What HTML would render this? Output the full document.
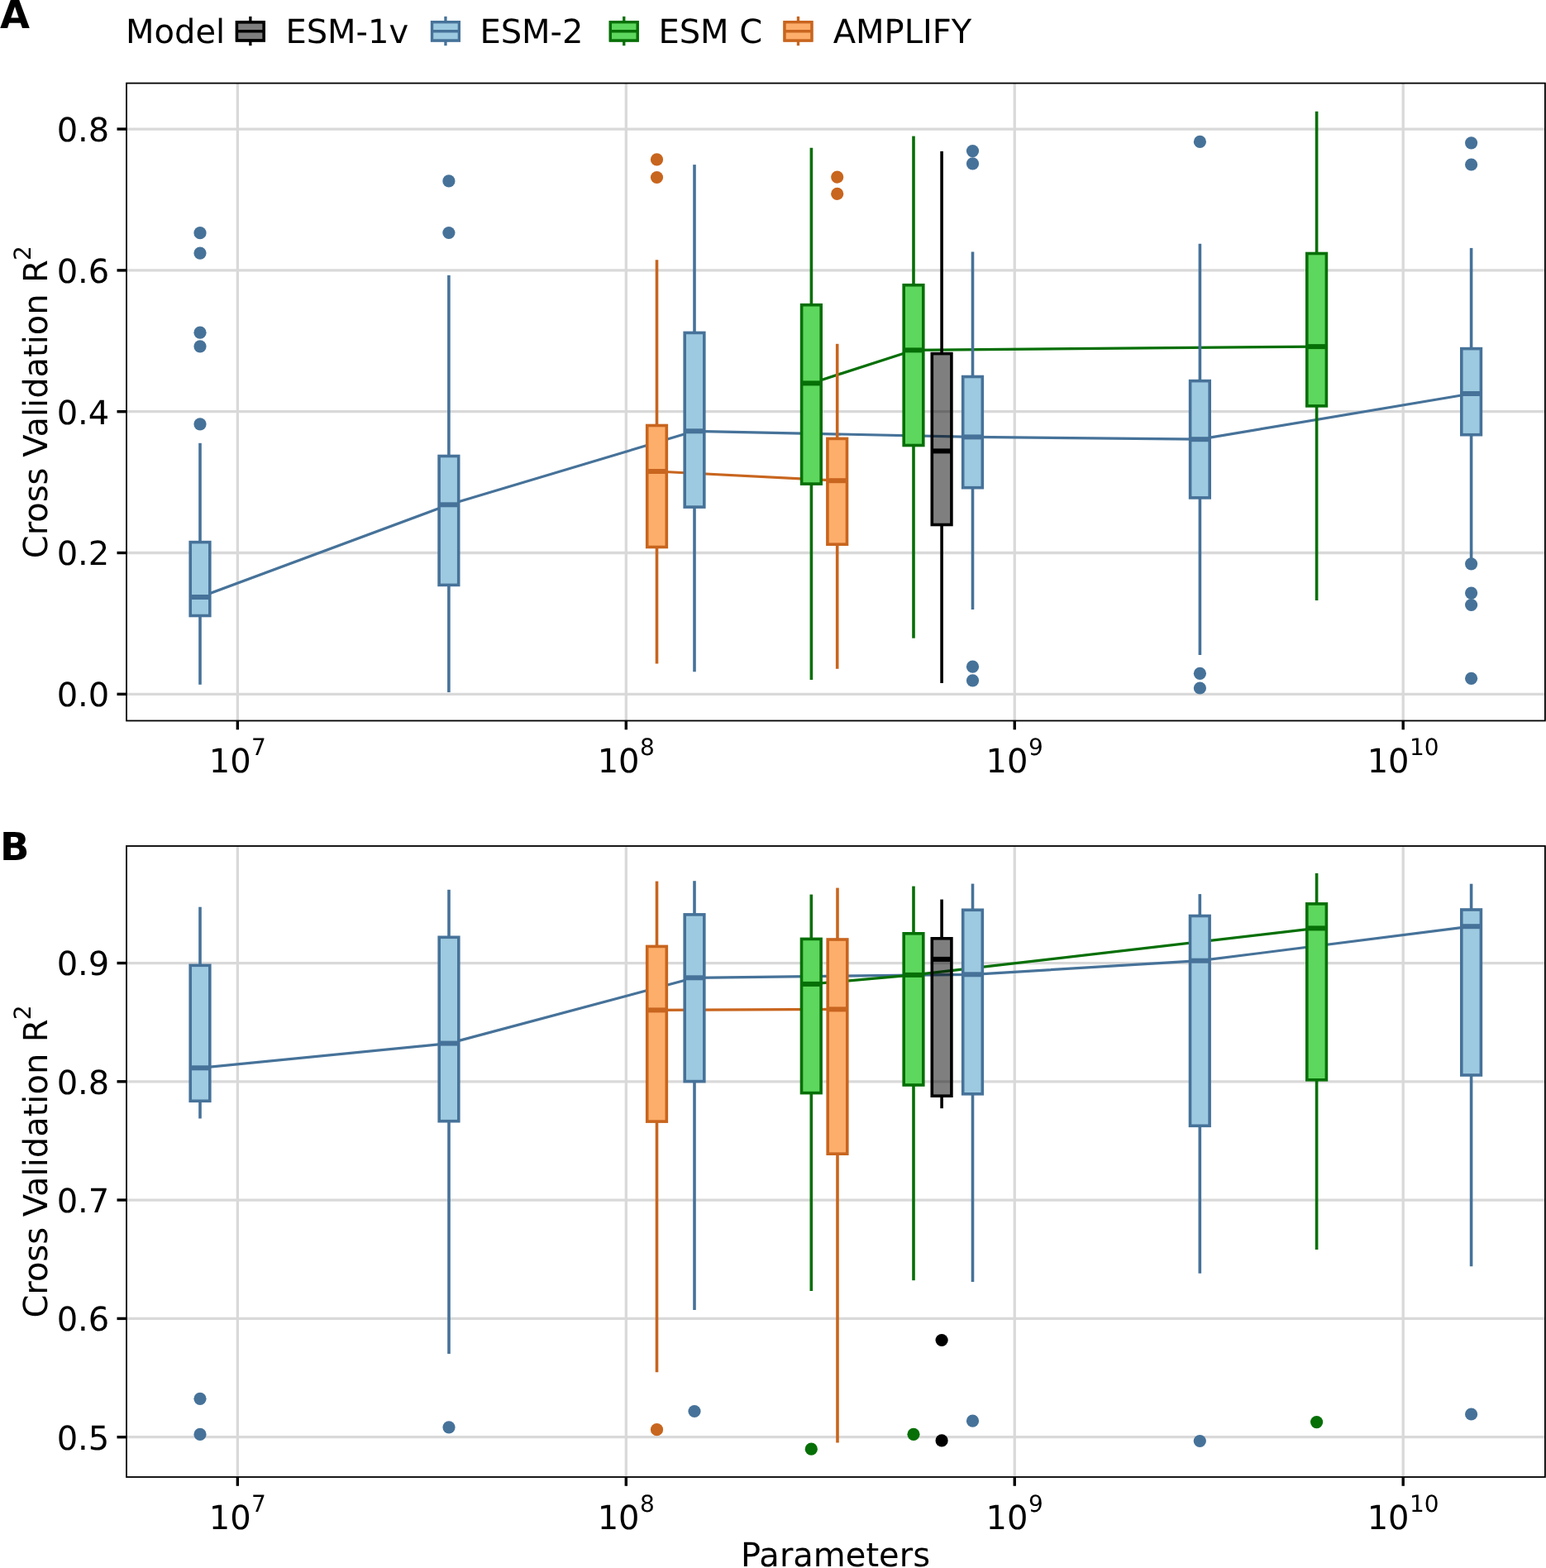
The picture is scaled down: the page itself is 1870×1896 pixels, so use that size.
<!DOCTYPE html>
<html><head><meta charset="utf-8"><title>Cross Validation R2 vs Parameters</title>
<style>
html,body{margin:0;padding:0;background:#fff;}
svg{display:block;}
svg{font-family:"DejaVu Sans","Liberation Sans",sans-serif;font-size:40px;fill:#000;font-stretch:normal;text-rendering:geometricPrecision;}
</style></head><body>
<svg width="1870" height="1896" viewBox="0 0 1870 1896">
<rect width="1870" height="1896" fill="#fff"/>
<text x="152" y="52.3">Model</text>
<g stroke="#000000" stroke-width="3.3"><line x1="302.85" y1="19.9" x2="302.85" y2="55.2"/><rect x="286.45" y="26.75" width="32.8" height="22.2" fill="#fff"/><rect x="286.45" y="26.75" width="32.8" height="22.2" fill="#000000" fill-opacity="0.5"/><line x1="286.45" y1="37.75" x2="319.25" y2="37.75"/></g>
<text x="345.4" y="52.3">ESM-1v</text>
<g stroke="#467299" stroke-width="3.3"><line x1="538.95" y1="19.9" x2="538.95" y2="55.2"/><rect x="522.55" y="26.75" width="32.8" height="22.2" fill="#fff"/><rect x="522.55" y="26.75" width="32.8" height="22.2" fill="#9ecae1"/><line x1="522.55" y1="37.75" x2="555.35" y2="37.75"/></g>
<text x="580.4" y="52.3">ESM-2</text>
<g stroke="#066f06" stroke-width="3.3"><line x1="754.75" y1="19.9" x2="754.75" y2="55.2"/><rect x="738.35" y="26.75" width="32.8" height="22.2" fill="#fff"/><rect x="738.35" y="26.75" width="32.8" height="22.2" fill="#5dd75d"/><line x1="738.35" y1="37.75" x2="771.15" y2="37.75"/></g>
<text x="796.4" y="52.3">ESM C</text>
<g stroke="#c8651e" stroke-width="3.3"><line x1="965.45" y1="19.9" x2="965.45" y2="55.2"/><rect x="949.05" y="26.75" width="32.8" height="22.2" fill="#fff"/><rect x="949.05" y="26.75" width="32.8" height="22.2" fill="#fdae6b"/><line x1="949.05" y1="37.75" x2="981.85" y2="37.75"/></g>
<text x="1007.7" y="52.3">AMPLIFY</text>
<g stroke="#d9d9d9" stroke-width="3.3"><line x1="153" y1="839.35" x2="1868.9" y2="839.35"/><line x1="153" y1="668.5" x2="1868.9" y2="668.5"/><line x1="153" y1="497.7" x2="1868.9" y2="497.7"/><line x1="153" y1="326.9" x2="1868.9" y2="326.9"/><line x1="153" y1="156.05" x2="1868.9" y2="156.05"/><line x1="287.35" y1="100.6" x2="287.35" y2="871.5"/><line x1="757.3" y1="100.6" x2="757.3" y2="871.5"/><line x1="1227.25" y1="100.6" x2="1227.25" y2="871.5"/><line x1="1697.2" y1="100.6" x2="1697.2" y2="871.5"/></g>
<polyline points="242,722 542.9,610.3 840,521.3 1176.5,528.4 1451.4,531.2 1779.6,476" fill="none" stroke="#467299" stroke-width="3.2" stroke-linejoin="round"/>
<polyline points="794.5,570 1012.7,581.2" fill="none" stroke="#c8651e" stroke-width="3.2" stroke-linejoin="round"/>
<polyline points="981.4,463.4 1105,423.4 1592.6,419.1" fill="none" stroke="#066f06" stroke-width="3.2" stroke-linejoin="round"/>
<g stroke="#467299" stroke-width="3.6"><line x1="242" y1="535.8" x2="242" y2="655.6"/><line x1="242" y1="744.5" x2="242" y2="827.8"/><rect x="230.2" y="655.6" width="23.6" height="88.9" fill="#9ecae1"/><line x1="230.2" y1="722" x2="253.8" y2="722" stroke-width="6.0"/><circle cx="242" cy="281.7" r="7.6" fill="#467299" stroke="none"/><circle cx="242" cy="306.1" r="7.6" fill="#467299" stroke="none"/><circle cx="242" cy="402.2" r="7.6" fill="#467299" stroke="none"/><circle cx="242" cy="418.8" r="7.6" fill="#467299" stroke="none"/><circle cx="242" cy="512.8" r="7.6" fill="#467299" stroke="none"/></g>
<g stroke="#467299" stroke-width="3.6"><line x1="542.9" y1="332.8" x2="542.9" y2="551.5"/><line x1="542.9" y1="707.4" x2="542.9" y2="837.1"/><rect x="531.1" y="551.5" width="23.6" height="155.9" fill="#9ecae1"/><line x1="531.1" y1="610.3" x2="554.7" y2="610.3" stroke-width="6.0"/><circle cx="542.9" cy="218.9" r="7.6" fill="#467299" stroke="none"/><circle cx="542.9" cy="281.5" r="7.6" fill="#467299" stroke="none"/></g>
<g stroke="#c8651e" stroke-width="3.6"><line x1="794.5" y1="314.3" x2="794.5" y2="514.5"/><line x1="794.5" y1="661.5" x2="794.5" y2="802.5"/><rect x="782.7" y="514.5" width="23.6" height="147" fill="#fdae6b"/><line x1="782.7" y1="570" x2="806.3" y2="570" stroke-width="6.0"/><circle cx="794.5" cy="192.9" r="7.6" fill="#c8651e" stroke="none"/><circle cx="794.5" cy="214.5" r="7.6" fill="#c8651e" stroke="none"/></g>
<g stroke="#467299" stroke-width="3.6"><line x1="840" y1="199.1" x2="840" y2="402.4"/><line x1="840" y1="613.1" x2="840" y2="812.3"/><rect x="828.2" y="402.4" width="23.6" height="210.7" fill="#9ecae1"/><line x1="828.2" y1="521.3" x2="851.8" y2="521.3" stroke-width="6.0"/></g>
<g stroke="#066f06" stroke-width="3.6"><line x1="981.4" y1="178.8" x2="981.4" y2="368.7"/><line x1="981.4" y1="585.1" x2="981.4" y2="821.9"/><rect x="969.6" y="368.7" width="23.6" height="216.4" fill="#5dd75d"/><line x1="969.6" y1="463.4" x2="993.2" y2="463.4" stroke-width="6.0"/></g>
<g stroke="#c8651e" stroke-width="3.6"><line x1="1012.7" y1="415.8" x2="1012.7" y2="530.4"/><line x1="1012.7" y1="658.2" x2="1012.7" y2="808.7"/><rect x="1000.9" y="530.4" width="23.6" height="127.8" fill="#fdae6b"/><line x1="1000.9" y1="581.2" x2="1024.5" y2="581.2" stroke-width="6.0"/><circle cx="1012.7" cy="214.1" r="7.6" fill="#c8651e" stroke="none"/><circle cx="1012.7" cy="234.4" r="7.6" fill="#c8651e" stroke="none"/></g>
<g stroke="#066f06" stroke-width="3.6"><line x1="1105" y1="164.6" x2="1105" y2="344.7"/><line x1="1105" y1="538.5" x2="1105" y2="771.7"/><rect x="1093.2" y="344.7" width="23.6" height="193.8" fill="#5dd75d"/><line x1="1093.2" y1="423.4" x2="1116.8" y2="423.4" stroke-width="6.0"/></g>
<g stroke="#000000" stroke-width="3.6"><line x1="1139.1" y1="182.9" x2="1139.1" y2="427.6"/><line x1="1139.1" y1="634.5" x2="1139.1" y2="826"/><rect x="1127.3" y="427.6" width="23.6" height="206.9" fill="#000000" fill-opacity="0.5"/><line x1="1127.3" y1="545.4" x2="1150.9" y2="545.4" stroke-width="6.0"/></g>
<g stroke="#467299" stroke-width="3.6"><line x1="1176.5" y1="304.4" x2="1176.5" y2="455.5"/><line x1="1176.5" y1="589.7" x2="1176.5" y2="737"/><rect x="1164.7" y="455.5" width="23.6" height="134.2" fill="#9ecae1"/><line x1="1164.7" y1="528.4" x2="1188.3" y2="528.4" stroke-width="6.0"/><circle cx="1176.5" cy="182.6" r="7.6" fill="#467299" stroke="none"/><circle cx="1176.5" cy="197.8" r="7.6" fill="#467299" stroke="none"/><circle cx="1176.5" cy="806.2" r="7.6" fill="#467299" stroke="none"/><circle cx="1176.5" cy="822.8" r="7.6" fill="#467299" stroke="none"/></g>
<g stroke="#467299" stroke-width="3.6"><line x1="1451.4" y1="294.7" x2="1451.4" y2="460.6"/><line x1="1451.4" y1="601.9" x2="1451.4" y2="792"/><rect x="1439.6" y="460.6" width="23.6" height="141.3" fill="#9ecae1"/><line x1="1439.6" y1="531.2" x2="1463.2" y2="531.2" stroke-width="6.0"/><circle cx="1451.4" cy="171.4" r="7.6" fill="#467299" stroke="none"/><circle cx="1451.4" cy="814.3" r="7.6" fill="#467299" stroke="none"/><circle cx="1451.4" cy="832" r="7.6" fill="#467299" stroke="none"/></g>
<g stroke="#066f06" stroke-width="3.6"><line x1="1592.6" y1="134.7" x2="1592.6" y2="306.5"/><line x1="1592.6" y1="490.9" x2="1592.6" y2="726"/><rect x="1580.8" y="306.5" width="23.6" height="184.4" fill="#5dd75d"/><line x1="1580.8" y1="419.1" x2="1604.4" y2="419.1" stroke-width="6.0"/></g>
<g stroke="#467299" stroke-width="3.6"><line x1="1779.6" y1="299.9" x2="1779.6" y2="421.6"/><line x1="1779.6" y1="525.7" x2="1779.6" y2="675.9"/><rect x="1767.8" y="421.6" width="23.6" height="104.1" fill="#9ecae1"/><line x1="1767.8" y1="476" x2="1791.4" y2="476" stroke-width="6.0"/><circle cx="1779.6" cy="172.8" r="7.6" fill="#467299" stroke="none"/><circle cx="1779.6" cy="199" r="7.6" fill="#467299" stroke="none"/><circle cx="1779.6" cy="681.8" r="7.6" fill="#467299" stroke="none"/><circle cx="1779.6" cy="717.1" r="7.6" fill="#467299" stroke="none"/><circle cx="1779.6" cy="731.5" r="7.6" fill="#467299" stroke="none"/><circle cx="1779.6" cy="820.3" r="7.6" fill="#467299" stroke="none"/></g>
<rect x="153" y="100.6" width="1715.9" height="770.9" fill="none" stroke="#000" stroke-width="1.8"/>
<g stroke="#000" stroke-width="3.4"><line x1="141.5" y1="839.35" x2="153" y2="839.35"/><line x1="141.5" y1="668.5" x2="153" y2="668.5"/><line x1="141.5" y1="497.7" x2="153" y2="497.7"/><line x1="141.5" y1="326.9" x2="153" y2="326.9"/><line x1="141.5" y1="156.05" x2="153" y2="156.05"/><line x1="287.35" y1="871.5" x2="287.35" y2="882.3"/><line x1="757.3" y1="871.5" x2="757.3" y2="882.3"/><line x1="1227.25" y1="871.5" x2="1227.25" y2="882.3"/><line x1="1697.2" y1="871.5" x2="1697.2" y2="882.3"/></g>
<g><text x="132.3" y="854.15" text-anchor="end">0.0</text><text x="132.3" y="683.3" text-anchor="end">0.2</text><text x="132.3" y="512.5" text-anchor="end">0.4</text><text x="132.3" y="341.7" text-anchor="end">0.6</text><text x="132.3" y="170.85" text-anchor="end">0.8</text><text x="252.7" y="933.6">10<tspan font-size="28" dx="0.4" dy="-21">7</tspan></text><text x="722.65" y="933.6">10<tspan font-size="28" dx="0.4" dy="-21">8</tspan></text><text x="1192.6" y="933.6">10<tspan font-size="28" dx="0.4" dy="-21">9</tspan></text><text x="1653.65" y="933.6">10<tspan font-size="28" dx="0.4" dy="-21">10</tspan></text></g>
<text transform="rotate(-90)" y="57"><tspan x="-675.2">Cross Validation</tspan><tspan x="-341.9">R</tspan><tspan x="-314.9" y="36.6" font-size="28">2</tspan></text>
<text x="0" y="33.7" font-weight="bold" font-size="46.5">A</text>
<g stroke="#d9d9d9" stroke-width="3.3"><line x1="153" y1="1737.7" x2="1868.9" y2="1737.7"/><line x1="153" y1="1594.4" x2="1868.9" y2="1594.4"/><line x1="153" y1="1451.05" x2="1868.9" y2="1451.05"/><line x1="153" y1="1307.8" x2="1868.9" y2="1307.8"/><line x1="153" y1="1164.55" x2="1868.9" y2="1164.55"/><line x1="287.35" y1="1023" x2="287.35" y2="1786"/><line x1="757.3" y1="1023" x2="757.3" y2="1786"/><line x1="1227.25" y1="1023" x2="1227.25" y2="1786"/><line x1="1697.2" y1="1023" x2="1697.2" y2="1786"/></g>
<polyline points="242,1291.3 543,1261.6 840,1182.3 1176.5,1178.3 1451.3,1161.7 1779.6,1120.2" fill="none" stroke="#467299" stroke-width="3.2" stroke-linejoin="round"/>
<polyline points="794.5,1221.4 1013,1220.4" fill="none" stroke="#c8651e" stroke-width="3.2" stroke-linejoin="round"/>
<polyline points="981.3,1189.9 1105,1178.9 1592.6,1122.4" fill="none" stroke="#066f06" stroke-width="3.2" stroke-linejoin="round"/>
<g stroke="#467299" stroke-width="3.6"><line x1="242" y1="1096.7" x2="242" y2="1167.3"/><line x1="242" y1="1331.3" x2="242" y2="1352.5"/><rect x="230.2" y="1167.3" width="23.6" height="164" fill="#9ecae1"/><line x1="230.2" y1="1291.3" x2="253.8" y2="1291.3" stroke-width="6.0"/><circle cx="242" cy="1691.3" r="7.6" fill="#467299" stroke="none"/><circle cx="242" cy="1734.4" r="7.6" fill="#467299" stroke="none"/></g>
<g stroke="#467299" stroke-width="3.6"><line x1="543" y1="1075.8" x2="543" y2="1133.3"/><line x1="543" y1="1355.7" x2="543" y2="1636.9"/><rect x="531.2" y="1133.3" width="23.6" height="222.4" fill="#9ecae1"/><line x1="531.2" y1="1261.6" x2="554.8" y2="1261.6" stroke-width="6.0"/><circle cx="543" cy="1725.8" r="7.6" fill="#467299" stroke="none"/></g>
<g stroke="#c8651e" stroke-width="3.6"><line x1="794.5" y1="1065.6" x2="794.5" y2="1144.4"/><line x1="794.5" y1="1356.1" x2="794.5" y2="1659.3"/><rect x="782.7" y="1144.4" width="23.6" height="211.7" fill="#fdae6b"/><line x1="782.7" y1="1221.4" x2="806.3" y2="1221.4" stroke-width="6.0"/><circle cx="794.5" cy="1728.7" r="7.6" fill="#c8651e" stroke="none"/></g>
<g stroke="#467299" stroke-width="3.6"><line x1="840" y1="1065.2" x2="840" y2="1105.9"/><line x1="840" y1="1307.6" x2="840" y2="1584"/><rect x="828.2" y="1105.9" width="23.6" height="201.7" fill="#9ecae1"/><line x1="828.2" y1="1182.3" x2="851.8" y2="1182.3" stroke-width="6.0"/><circle cx="840" cy="1706.5" r="7.6" fill="#467299" stroke="none"/></g>
<g stroke="#066f06" stroke-width="3.6"><line x1="981.3" y1="1081.6" x2="981.3" y2="1135.4"/><line x1="981.3" y1="1321.6" x2="981.3" y2="1561"/><rect x="969.5" y="1135.4" width="23.6" height="186.2" fill="#5dd75d"/><line x1="969.5" y1="1189.9" x2="993.1" y2="1189.9" stroke-width="6.0"/><circle cx="981.3" cy="1752.2" r="7.6" fill="#066f06" stroke="none"/></g>
<g stroke="#c8651e" stroke-width="3.6"><line x1="1013" y1="1073.6" x2="1013" y2="1136"/><line x1="1013" y1="1395.2" x2="1013" y2="1744.5"/><rect x="1001.2" y="1136" width="23.6" height="259.2" fill="#fdae6b"/><line x1="1001.2" y1="1220.4" x2="1024.8" y2="1220.4" stroke-width="6.0"/></g>
<g stroke="#066f06" stroke-width="3.6"><line x1="1105" y1="1071.6" x2="1105" y2="1128.8"/><line x1="1105" y1="1312" x2="1105" y2="1548.2"/><rect x="1093.2" y="1128.8" width="23.6" height="183.2" fill="#5dd75d"/><line x1="1093.2" y1="1178.9" x2="1116.8" y2="1178.9" stroke-width="6.0"/><circle cx="1105" cy="1734.3" r="7.6" fill="#066f06" stroke="none"/></g>
<g stroke="#000000" stroke-width="3.6"><line x1="1139.1" y1="1087.6" x2="1139.1" y2="1134.8"/><line x1="1139.1" y1="1325.2" x2="1139.1" y2="1340.2"/><rect x="1127.3" y="1134.8" width="23.6" height="190.4" fill="#000000" fill-opacity="0.5"/><line x1="1127.3" y1="1159.9" x2="1150.9" y2="1159.9" stroke-width="6.0"/><circle cx="1139.1" cy="1620.5" r="7.6" fill="#000000" stroke="none"/><circle cx="1139.1" cy="1741.9" r="7.6" fill="#000000" stroke="none"/></g>
<g stroke="#467299" stroke-width="3.6"><line x1="1176.5" y1="1068.6" x2="1176.5" y2="1100.3"/><line x1="1176.5" y1="1322.8" x2="1176.5" y2="1550.1"/><rect x="1164.7" y="1100.3" width="23.6" height="222.5" fill="#9ecae1"/><line x1="1164.7" y1="1178.3" x2="1188.3" y2="1178.3" stroke-width="6.0"/><circle cx="1176.5" cy="1718.2" r="7.6" fill="#467299" stroke="none"/></g>
<g stroke="#467299" stroke-width="3.6"><line x1="1451.3" y1="1081.1" x2="1451.3" y2="1107.5"/><line x1="1451.3" y1="1361.3" x2="1451.3" y2="1539.8"/><rect x="1439.5" y="1107.5" width="23.6" height="253.8" fill="#9ecae1"/><line x1="1439.5" y1="1161.7" x2="1463.1" y2="1161.7" stroke-width="6.0"/><circle cx="1451.3" cy="1742.5" r="7.6" fill="#467299" stroke="none"/></g>
<g stroke="#066f06" stroke-width="3.6"><line x1="1592.6" y1="1055.9" x2="1592.6" y2="1092.9"/><line x1="1592.6" y1="1305.8" x2="1592.6" y2="1511"/><rect x="1580.8" y="1092.9" width="23.6" height="212.9" fill="#5dd75d"/><line x1="1580.8" y1="1122.4" x2="1604.4" y2="1122.4" stroke-width="6.0"/><circle cx="1592.6" cy="1719.6" r="7.6" fill="#066f06" stroke="none"/></g>
<g stroke="#467299" stroke-width="3.6"><line x1="1779.6" y1="1068.7" x2="1779.6" y2="1100"/><line x1="1779.6" y1="1300" x2="1779.6" y2="1531.2"/><rect x="1767.8" y="1100" width="23.6" height="200" fill="#9ecae1"/><line x1="1767.8" y1="1120.2" x2="1791.4" y2="1120.2" stroke-width="6.0"/><circle cx="1779.6" cy="1710" r="7.6" fill="#467299" stroke="none"/></g>
<rect x="153" y="1023" width="1715.9" height="763" fill="none" stroke="#000" stroke-width="1.8"/>
<g stroke="#000" stroke-width="3.4"><line x1="141.5" y1="1737.7" x2="153" y2="1737.7"/><line x1="141.5" y1="1594.4" x2="153" y2="1594.4"/><line x1="141.5" y1="1451.05" x2="153" y2="1451.05"/><line x1="141.5" y1="1307.8" x2="153" y2="1307.8"/><line x1="141.5" y1="1164.55" x2="153" y2="1164.55"/><line x1="287.35" y1="1786" x2="287.35" y2="1796.8"/><line x1="757.3" y1="1786" x2="757.3" y2="1796.8"/><line x1="1227.25" y1="1786" x2="1227.25" y2="1796.8"/><line x1="1697.2" y1="1786" x2="1697.2" y2="1796.8"/></g>
<g><text x="132.3" y="1752.5" text-anchor="end">0.5</text><text x="132.3" y="1609.2" text-anchor="end">0.6</text><text x="132.3" y="1465.85" text-anchor="end">0.7</text><text x="132.3" y="1322.6" text-anchor="end">0.8</text><text x="132.3" y="1179.35" text-anchor="end">0.9</text><text x="252.7" y="1848.7">10<tspan font-size="28" dx="0.4" dy="-21">7</tspan></text><text x="722.65" y="1848.7">10<tspan font-size="28" dx="0.4" dy="-21">8</tspan></text><text x="1192.6" y="1848.7">10<tspan font-size="28" dx="0.4" dy="-21">9</tspan></text><text x="1653.65" y="1848.7">10<tspan font-size="28" dx="0.4" dy="-21">10</tspan></text></g>
<text transform="rotate(-90)" y="57"><tspan x="-1593.6">Cross Validation</tspan><tspan x="-1260.3">R</tspan><tspan x="-1233.3" y="36.6" font-size="28">2</tspan></text>
<text x="0" y="1039.7" font-weight="bold" font-size="46.5">B</text>
<text x="896.05" y="1894">Parameters</text>
</svg></body></html>
